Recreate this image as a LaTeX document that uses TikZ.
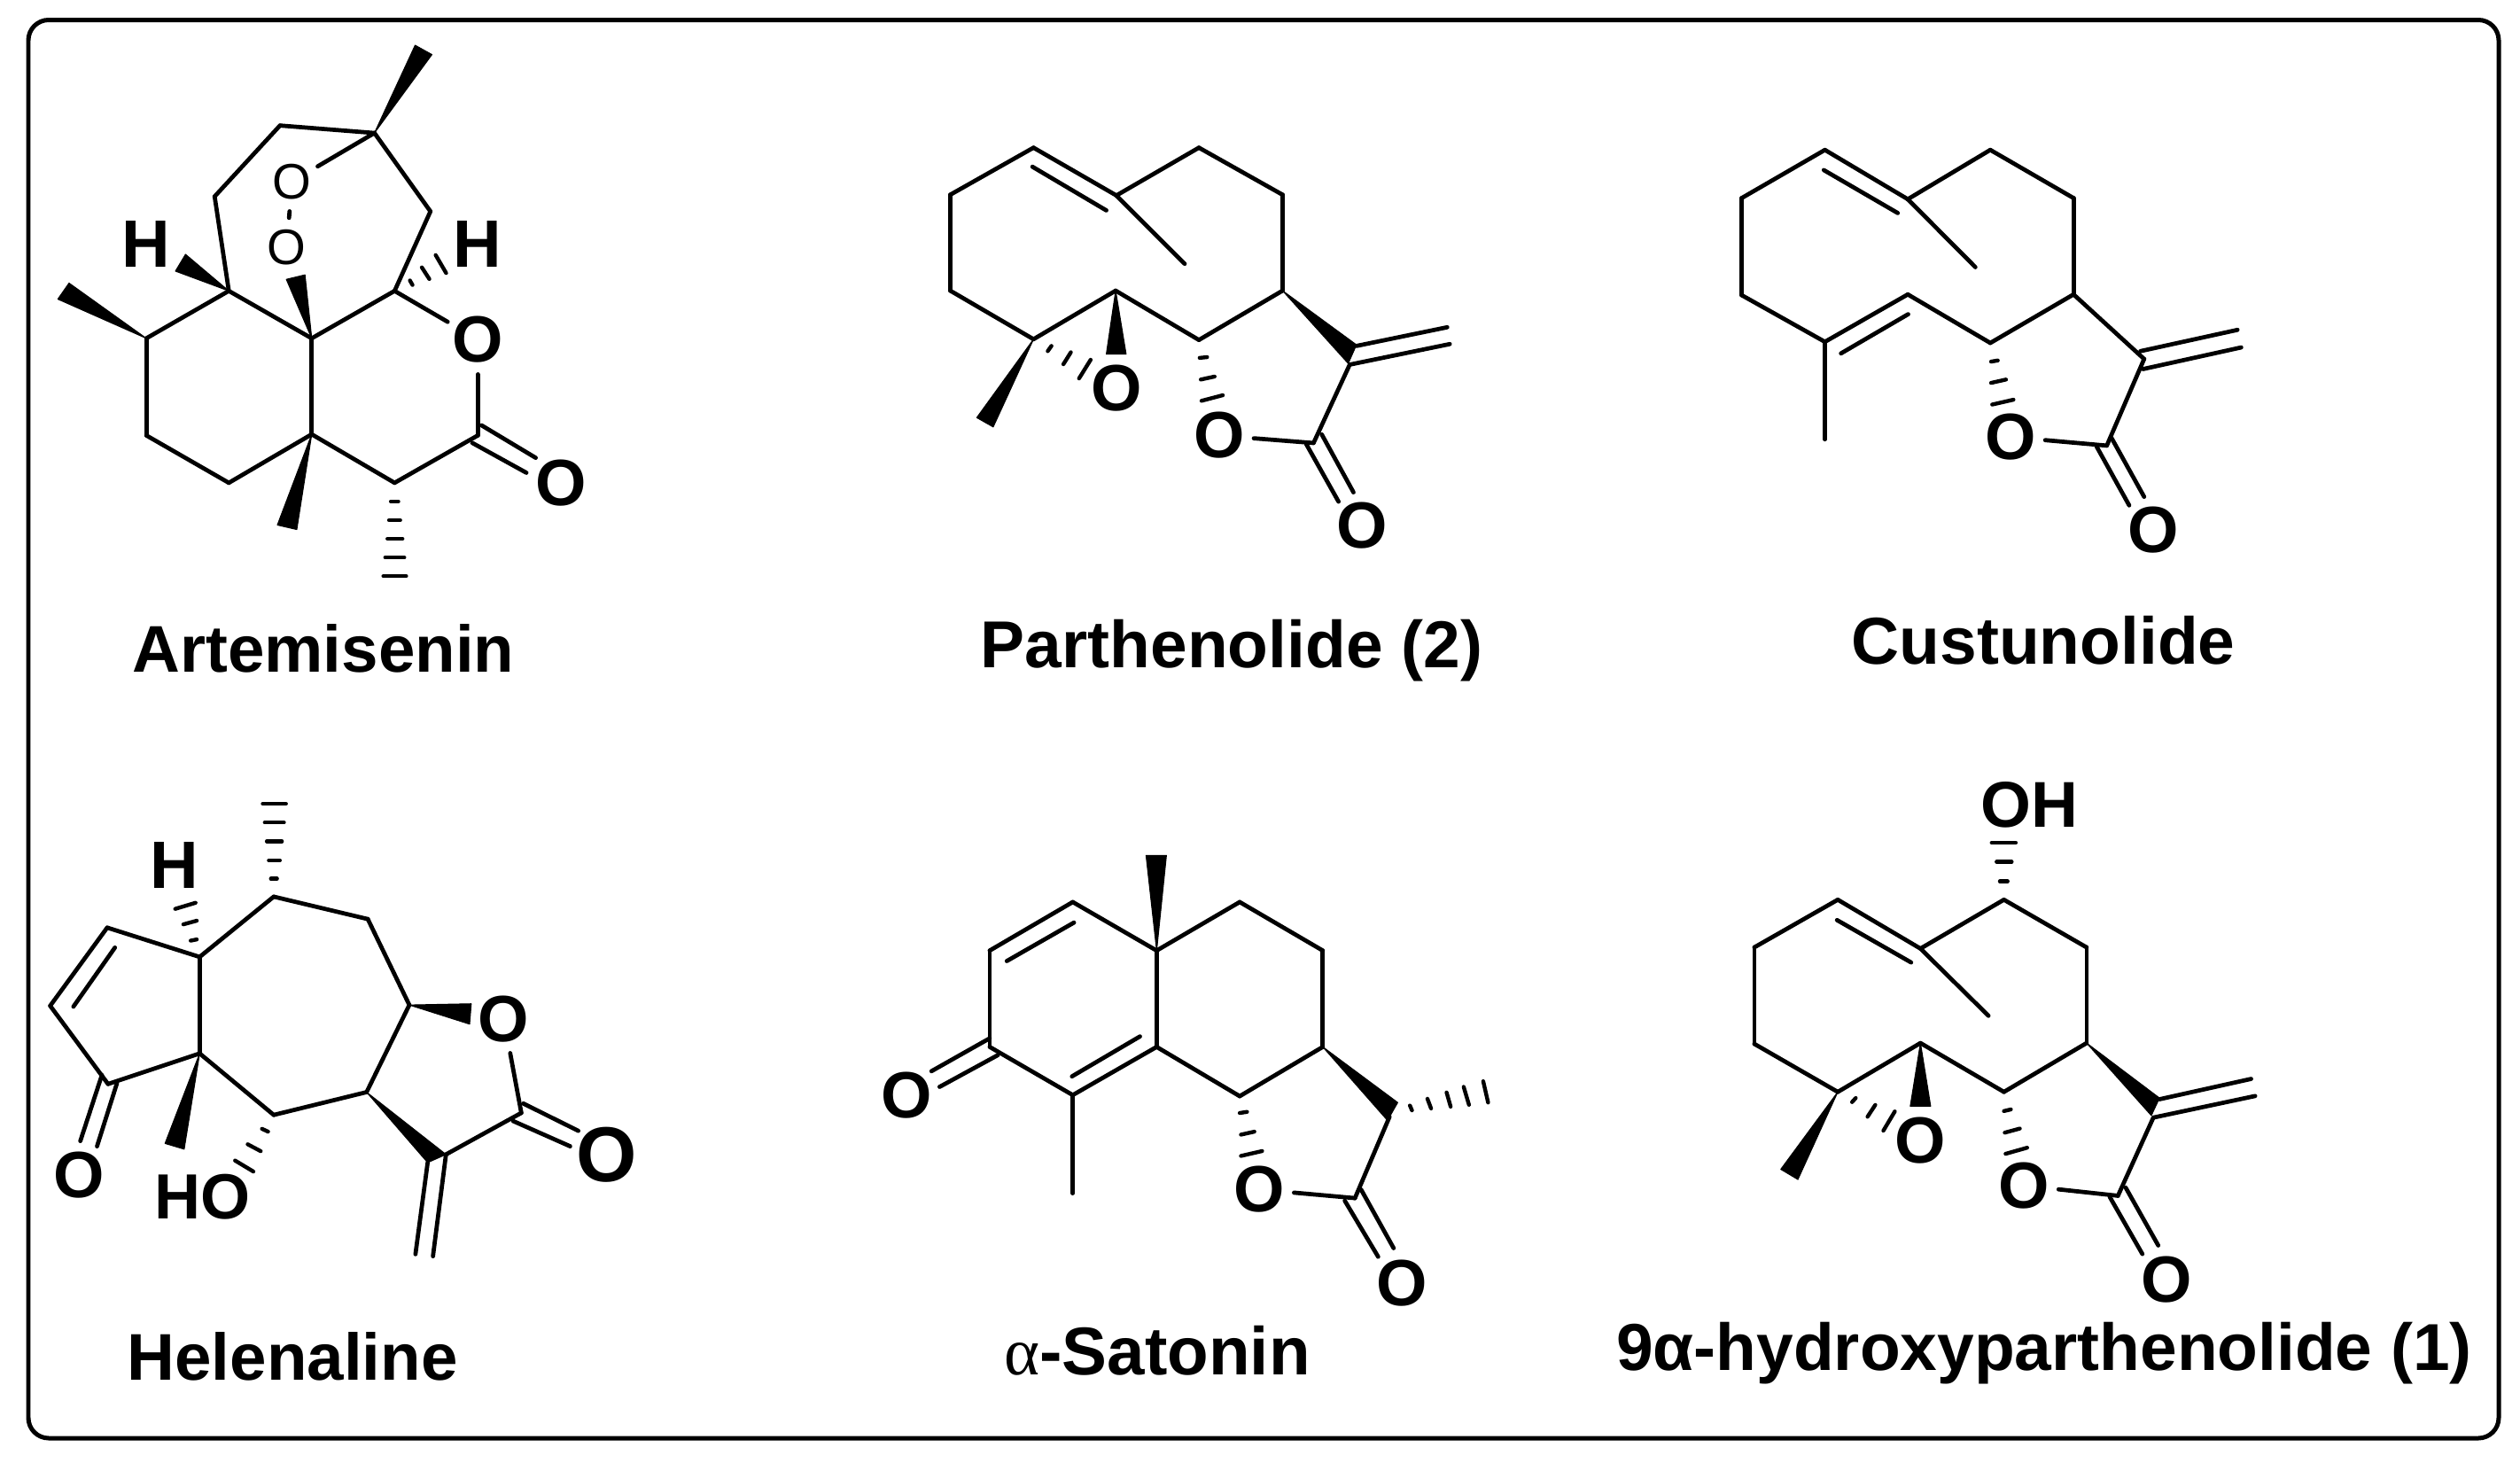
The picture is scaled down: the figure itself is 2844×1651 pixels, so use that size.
\documentclass[tikz,border=0pt]{standalone}
\usepackage{fontspec}
\setmainfont{Liberation Sans}
\newfontfamily\alphaserif{Liberation Serif}
\tikzset{
  bond/.style={draw=black,line width=1.35pt,line cap=round,line join=round},
  wedgeb/.style={fill=black,draw=black,line width=0.3pt,line join=round},
  hashb/.style={draw=black,line width=1.25pt,line cap=round},
  atomb/.style={circle,inner sep=0pt,minimum size=0.74cm,font=\bfseries\fontsize{21}{24}\selectfont,text=black},
  atomh/.style={inner sep=0pt,font=\bfseries\fontsize{21.5}{24}\selectfont,text=black},
  atomt/.style={circle,inner sep=0pt,minimum size=0.66cm,font=\fontsize{16}{19}\selectfont,text=black},
  titleb/.style={anchor=base,inner sep=0pt,font=\bfseries\fontsize{21.3}{24}\selectfont,text=black},
  framebox/.style={draw=black,line width=1.42pt,rounded corners=0.23cm},
}
\newcommand{\bonds}[1]{\foreach \pa/\pb in {#1} \draw[bond] (\pa) -- (\pb);}
\newcommand{\atoms}[1]{\foreach \nm/\xx/\yy in {#1} \coordinate (\nm) at (\xx,\yy);}
\newcommand{\wedges}[1]{\foreach \pa/\pb/\pc in {#1} \fill[wedgeb] (\pa) -- (\pb) -- (\pc) -- cycle;}
\newcommand{\hashes}[1]{\foreach \xa/\ya/\xb/\yb in {#1} \draw[hashb] (\xa,\ya) -- (\xb,\yb);}
\begin{document}
\begin{tikzpicture}[x=0.01cm,y=-0.01cm]
\useasboundingbox (0,0) rectangle (2844,1651);
\fill[white] (0,0) rectangle (2844,1651);
\draw[framebox] (32,22.5) rectangle (2820,1623);

% Artemisenin
\begin{scope}[shift={(40,30)},x=0.0042088cm,y=-0.0042088cm]
\atoms{a1/297/835,a2/297/1095,a3/518/1222,a4/740/1092,a5/740/835,a6/518/708,a7/962/708,a8/1058/495,a9/908/285,a10/655/265,a11/480/455,a12/962/1222,a13/1185/1095,
 a13p/1195/1068,a13q/1340/1155,a13r/1170/1115,a13s/1315/1195,
 w1a/1017/50,w1b/1062/75,w2a/90/687,w2b/60/730,w3a/402/610,w3b/375/655,w4a/672/677,w4b/722/665,w5a/648/1335,w5b/700/1347}
\node[atomb] (Oa) at (1185,838) {O};
\node[atomb] (Ob) at (1408,1222) {O};
\node[atomt] (Op1) at (687,415) {O};
\node[atomt] (Op2) at (673,592) {O};
\node[atomh] (Ha) at (296,582) {H};
\node[atomh] (Hb) at (1184,582) {H};
\bonds{a1/a2,a2/a3,a3/a4,a4/a5,a5/a6,a6/a1,a5/a7,a6/a11,a11/a10,a10/a9,a9/a8,a8/a7,a4/a12,a12/a13,a7/Oa,Oa/a13,a9/Op1,Op1/Op2,a13p/a13q,a13r/a13s}
\wedges{a9/w1a/w1b,a1/w2a/w2b,a6/w3a/w3b,a5/w4a/w4b,a4/w5a/w5b}
\hashes{1003/680/1010/692,1035/645/1055/676,1072/612/1100/660,952/1272/972/1272,947/1322/977/1322,943/1372/983/1372,937/1422/988/1422,932/1472/993/1472}
\end{scope}

% Parthenolide
\begin{scope}[shift={(1040,130)},x=0.0042088cm,y=-0.0042088cm]
\atoms{b1/77/213,b2/300/87,b3/522/215,b4/743/87,b5/967/213,b6/967/470,b7/743/602,b8/520/470,b9/300/600,b10/77/470,
 b2p/297/138,b3p/495/255,bm/705/398,
 bw1/148/810,bw2/192/835,bw3/495/640,bw4/548/640,bw5/1165/615,bw6/1143/665,
 bc1/1165/618,bc2/1408/568,bc3/1147/668,bc4/1415/613,bk/1050/878,
 bd1/1072/855,bd2/1157/1010,bd3/1030/880,bd4/1117/1035}
\node[atomb] (Oc) at (797,858) {O};
\node[atomb] (Od) at (1180,1100) {O};
\node[atomb] (Oe) at (522,730) {O};
\bonds{b1/b2,b2/b3,b3/b4,b4/b5,b5/b6,b6/b7,b7/b8,b8/b9,b9/b10,b10/b1,b2p/b3p,b3/bm,bc1/bc2,bc3/bc4,bc3/bk,Oc/bk,bd1/bd2,bd3/bd4}
\wedges{b9/bw1/bw2,b8/bw3/bw4,b6/bw5/bw6}
\hashes{338/632/348/618,380/667/400/635,422/705/453/655,745/650/765/648,748/708/785/700,750/765/807/750}
\end{scope}

% Custunolide
\begin{scope}[shift={(1950,130)},x=0.0042088cm,y=-0.0042088cm]
\atoms{c1/37/222,c2/260/93,c3/482/225,c4/703/93,c5/926/222,c6/926/480,c7/703/610,c8/482/480,c9/260/607,c10/37/482,
 c2p/257/147,c3p/455/262,c8p/483/533,c9p/303/638,cm1/663/407,cm2/260/868,
 cx/1115/653,ca1/1105/632,ca2/1365/575,ca3/1112/680,ca4/1375/622,ck/1015/885,
 cd1/1028/865,cd2/1115/1022,cd3/988/888,cd4/1075/1045}
\node[atomb] (Of) at (757,862) {O};
\node[atomb] (Og) at (1140,1112) {O};
\bonds{c1/c2,c2/c3,c3/c4,c4/c5,c5/c6,c6/c7,c7/c8,c8/c9,c9/c10,c10/c1,c2p/c3p,c8p/c9p,c3/cm1,c9/cm2,c6/cx,ca1/ca2,ca3/ca4,cx/ck,Of/ck,cd1/cd2,cd3/cd4}
\hashes{705/660/723/657,705/717/745/708,708/775/765/762}
\end{scope}

% Helenaline
\begin{scope}[shift={(30,880)},x=0.0045914cm,y=-0.0045914cm]
\atoms{d1/58/555,d2/198/363,d3/425/435,d4/425/672,d5/200/747,d6/607/287,d7/838/342,d8/940/553,d9/835/767,d10/607/823,d11/1030/920,d12/1215/818,
 d1p/115/557,d2p/217/412,de1/185/725,de2/132/887,de3/222/745,de4/173/900,
 dw1/340/893,dw2/387/907,dw3/1092/550,dw4/1088/600,dw5/985/940,
 df1/1220/795,df2/1355/862,df3/1195/838,df4/1335/900,dg1/955/1165,dg2/998/1170}
\node[atomb] (Oh) at (128,970) {O};
\node[atomb] (Oi) at (1172,587) {O};
\node[atomb,font=\bfseries\fontsize{25}{28}\selectfont] (Oj) at (1425,920) {O};
\node[atomh] (Hc) at (362,210) {H};
\node[atomh,font=\bfseries\fontsize{20.5}{24}\selectfont] (HOa) at (433,1025) {HO};
\bonds{d1/d2,d2/d3,d3/d4,d4/d5,d5/d1,d3/d6,d6/d7,d7/d8,d8/d9,d9/d10,d10/d4,d11/d12,d1p/d2p,de1/de2,de3/de4,Oi/d12,df1/df2,df3/df4,dw5/dg1,d11/dg2}
\wedges{d4/dw1/dw2,d8/dw3/dw4,d9/dw5/d11}
\hashes{600/243/615/243,595/198/622/198,590/151/627/151,585/105/632/105,580/59/637/59,403/395/418/392,385/355/418/346,365/317/415/302,578/857/593/864,543/895/575/912,512/935/557/962}
\end{scope}

% alpha-Satonin
\begin{scope}[shift={(980,940)},x=0.0045914cm,y=-0.0042088cm]
\atoms{e1/298/315,e2/502/185,e3/708/315,e4/708/573,e5/502/702,e6/298/573,e7/912/185,e8/1116/315,e9/1116/573,e10/912/705,
 e1p/340/343,e2p/505/240,e4p/667/545,e5p/500/652,em/502/965,
 ee1/298/550,ee2/155/638,ee3/318/595,ee4/175/680,
 ew1/682/60,ew2/732/60,ew3/1300/722,ew4/1275/770,
 ex/1280/760,ek/1195/978,ed1/1210/955,ed2/1290/1112,ed3/1170/985,ed4/1252/1135}
\node[atomb] (Ok) at (95,703) {O};
\node[atomb] (Ol) at (960,955) {O};
\node[atomb] (Om) at (1310,1205) {O};
\bonds{e1/e2,e2/e3,e3/e4,e4/e5,e5/e6,e6/e1,e3/e7,e7/e8,e8/e9,e9/e10,e10/e4,e1p/e2p,e4p/e5p,e5/em,ee1/ee2,ee3/ee4,ex/ek,Ol/ek,ed1/ed2,ed3/ed4}
\wedges{e3/ew1/ew2,e9/ew3/ew4}
\hashes{912/750/930/747,915/808/948/800,915/865/967/852,1330/730/1335/743,1373/712/1382/738,1420/695/1430/733,1462/680/1475/728,1510/665/1522/722}
\end{scope}

% 9alpha-hydroxyparthenolide
\begin{scope}[shift={(1950,860)},x=0.0045914cm,y=-0.0045914cm]
\atoms{f1/65/455,f2/270/338,f3/473/458,f4/678/338,f5/881/455,f6/881/690,f7/678/810,f8/473/690,f9/270/810,f10/65/692,
 f2p/268/388,f3p/450/492,fm/640/623,
 fw1/130/1000,fw2/172/1025,fw3/448/845,fw4/498/845,fw5/1060/825,fw6/1040/868,
 fa1/1060/828,fa2/1285/778,fa3/1045/873,fa4/1295/820,fk/958/1065,
 fd1/977/1045,fd2/1057/1187,fd3/938/1068,fd4/1018/1208}
\node[atomb] (On) at (727,1040) {O};
\node[atomb] (Oo) at (1078,1270) {O};
\node[atomb] (Oq) at (473,930) {O};
\node[atomh,anchor=west,font=\bfseries\fontsize{20.8}{24}\selectfont] (OHa) at (620,105) {OH};
\bonds{f1/f2,f2/f3,f3/f4,f4/f5,f5/f6,f6/f7,f7/f8,f8/f9,f9/f10,f10/f1,f2p/f3p,f3/fm,fa1/fa2,fa3/fa4,fa3/fk,On/fk,fd1/fd2,fd3/fd4}
\wedges{f9/fw1/fw2,f8/fw3/fw4,f6/fw5/fw6}
\hashes{305/835/314/825,343/871/362/842,382/905/410/858,678/857/695/853,680/910/717/900,682/962/735/947,668/293/687/293,660/245/697/245,648/198/707/198}
\end{scope}

% Titles
\node[titleb,font=\bfseries\fontsize{21.2}{24}\selectfont] (t1) at (365,758) {Artemisenin};
\node[titleb] (t2) at (1390,753) {Parthenolide (2)};
\node[titleb] (t3) at (2306,749) {Custunolide};
\node[titleb,font=\bfseries\fontsize{21.2}{24}\selectfont] (t4) at (330,1557) {Helenaline};
\node[titleb,font=\bfseries\fontsize{21.7}{24}\selectfont] (t5) at (1306,1551) {{\alphaserif\mdseries α}-Satonin};
\node[titleb] (t6) at (2307,1546) {9α-hydroxyparthenolide (1)};
\end{tikzpicture}
\end{document}
